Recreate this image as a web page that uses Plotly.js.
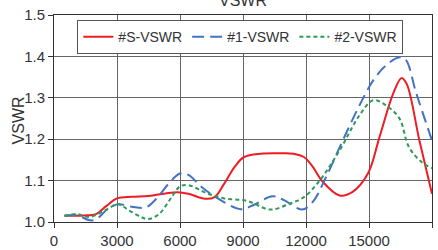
<!DOCTYPE html>
<html>
<head>
<meta charset="utf-8">
<script src="https://cdn.plot.ly/plotly-3.0.1.min.js"></script>
<style>
html,body{margin:0;padding:0;background:#fff;}
#chart{width:438px;height:250px;}
</style>
</head>
<body>
<div id="chart"></div>
<script>
var seriesNames = ['#S-VSWR', '#1-VSWR', '#2-VSWR'];

var sX = [500,1400,2000,2500,3000,3700,4500,5300,5900,6400,7200,7650,8100,8600,9050,9850,10800,11400,11900,12300,12800,13600,14200,14950,15500,16150,16550,16800,17400,18000];
var sY = [1.015,1.016,1.019,1.039,1.057,1.061,1.063,1.069,1.072,1.068,1.056,1.060,1.092,1.133,1.157,1.165,1.166,1.165,1.157,1.135,1.097,1.064,1.072,1.117,1.205,1.310,1.348,1.333,1.197,1.068];

var oneX = [500,1100,1700,2000,2550,3050,3700,4350,4850,5450,6000,6400,7000,7800,8900,9500,10400,10950,11800,12300,12950,13750,14550,15200,15800,16450,16750,17250,18000];
var oneY = [1.015,1.016,1.004,1.006,1.031,1.043,1.037,1.035,1.055,1.092,1.117,1.114,1.086,1.057,1.031,1.041,1.062,1.053,1.030,1.047,1.108,1.197,1.282,1.342,1.378,1.398,1.392,1.311,1.197];

var twoX = [500,1100,1700,2500,3050,3600,4200,4500,5000,5600,6000,6400,7300,8100,9200,10300,11250,11900,12650,13600,14550,15200,15800,16450,16900,17500,18000];
var twoY = [1.015,1.019,1.012,1.030,1.043,1.027,1.011,1.007,1.019,1.060,1.086,1.089,1.069,1.057,1.051,1.030,1.045,1.060,1.100,1.173,1.258,1.294,1.282,1.250,1.181,1.145,1.130];

var xTicks = [0,3000,6000,9000,12000,15000,18000];
var yTicks = [1.0,1.1,1.2,1.3,1.4,1.5];

var traces = [
  {x:sX, y:sY, name:seriesNames[0], type:'scatter', mode:'lines',
   line:{color:'#ee1c25', width:2, shape:'spline', smoothing:1}},
  {x:oneX, y:oneY, name:seriesNames[1], type:'scatter', mode:'lines',
   line:{color:'#4472c4', width:2, shape:'spline', smoothing:1, dash:'12px,6px'}},
  {x:twoX, y:twoY, name:seriesNames[2], type:'scatter', mode:'lines',
   line:{color:'#2e9a5a', width:2, shape:'spline', smoothing:1, dash:'4px,3px'}}
];

var fontFam = 'Liberation Sans, Arial, sans-serif';

var layout = {
  width:438, height:250,
  margin:{l:54, r:6, t:15, b:28, pad:0},
  paper_bgcolor:'#fff', plot_bgcolor:'#fff',
  font:{family:fontFam, size:15, color:'#333'},
  title:{text:'VSWR', font:{family:fontFam, size:16, color:'#333'}, x:0.5, xref:'paper', y:1.0, yref:'container', yanchor:'middle'},
  showlegend:true,
  legend:{orientation:'h', x:0.493, xanchor:'center', y:0.975, yanchor:'top',
    bgcolor:'#fff', bordercolor:'#555', borderwidth:1,
    font:{family:fontFam, size:14, color:'#333'}, itemwidth:30, tracegroupgap:0},
  xaxis:{range:[0,18000], tickvals:xTicks, ticktext:xTicks.map(String),
    showgrid:true, gridcolor:'#666', gridwidth:1,
    showline:true, linecolor:'#333', linewidth:1, mirror:true,
    ticks:'outside', ticklen:5, tickcolor:'#333', zeroline:false,
    tickfont:{family:fontFam, size:15, color:'#333'}},
  yaxis:{range:[1.0,1.5], tickvals:yTicks, ticktext:yTicks.map(function(v){return v.toFixed(1);}),
    showgrid:true, gridcolor:'#666', gridwidth:1,
    showline:true, linecolor:'#333', linewidth:1, mirror:true,
    ticks:'outside', ticklen:5, tickcolor:'#333', zeroline:false,
    tickfont:{family:fontFam, size:15, color:'#333'}},
  annotations:[{text:'VSWR', xref:'paper', yref:'paper', x:-0.093, y:0.49,
    xanchor:'center', yanchor:'middle', textangle:-90, showarrow:false,
    font:{family:fontFam, size:16, color:'#333'}}]
};

Plotly.newPlot('chart', traces, layout, {staticPlot:true, displayModeBar:false});
</script>
</body>
</html>
